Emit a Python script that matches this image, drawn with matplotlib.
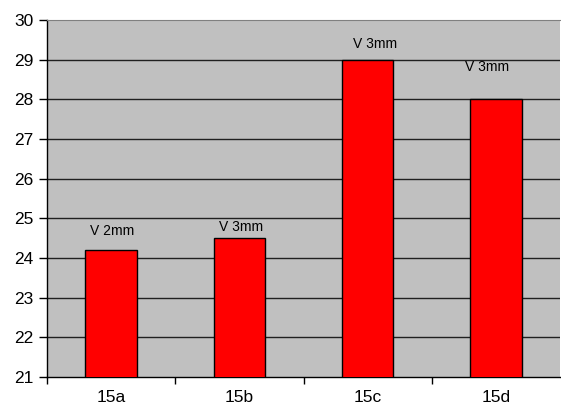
import numpy as np
import matplotlib.pyplot as plt

samples = ['15a', '15b', '15c', '15d']
values = [24.2, 24.5, 29.0, 28.0]
notes = ['V 2mm', 'V 3mm', 'V 3mm', 'V 3mm']

plt.rcParams['font.family'] = ['Liberation Sans', 'DejaVu Sans']

fig = plt.figure(figsize=(5.61, 4.07), dpi=100)
ax = fig.add_axes([47 / 561, 30 / 407, 513 / 561, 357 / 407])
ax.set_facecolor('#c0c0c0')

x = np.arange(len(samples))
ax.bar(x, values, width=0.4, bottom=0, color='#ff0000', edgecolor='black',
       linewidth=1.0, zorder=3)

# value notes above the bars (offsets in points)
offsets = [(1, 9), (1, 3), (5, 6), (-6, 18)]
for xi, v, n, off in zip(x, values, notes, offsets):
    ax.annotate(n, (xi, v), xytext=off, textcoords='offset points',
                ha='center', va='bottom', fontsize=10, zorder=4)

ax.set_ylim(21, 30)
ax.set_xlim(-0.5, 3.5)
ax.set_yticks(range(21, 31))
for yv in range(22, 30):
    ax.axhline(yv, color='#202020', linewidth=1.0, zorder=1)

ax.set_xticks(x)
ax.set_xticklabels(samples)
ax.set_xticks([-0.5, 0.5, 1.5, 2.5], minor=True)
ax.tick_params(axis='x', which='major', length=0, pad=9, labelsize=12.5)
ax.tick_params(axis='x', which='minor', length=5, width=1)
ax.tick_params(axis='y', length=6, width=1, labelsize=12.5, pad=4)

ax.spines['top'].set_color('#808080')
ax.spines['right'].set_visible(False)
ax.spines['left'].set_linewidth(1.0)
ax.spines['bottom'].set_linewidth(1.0)

fig.savefig('out.png', dpi=100)
